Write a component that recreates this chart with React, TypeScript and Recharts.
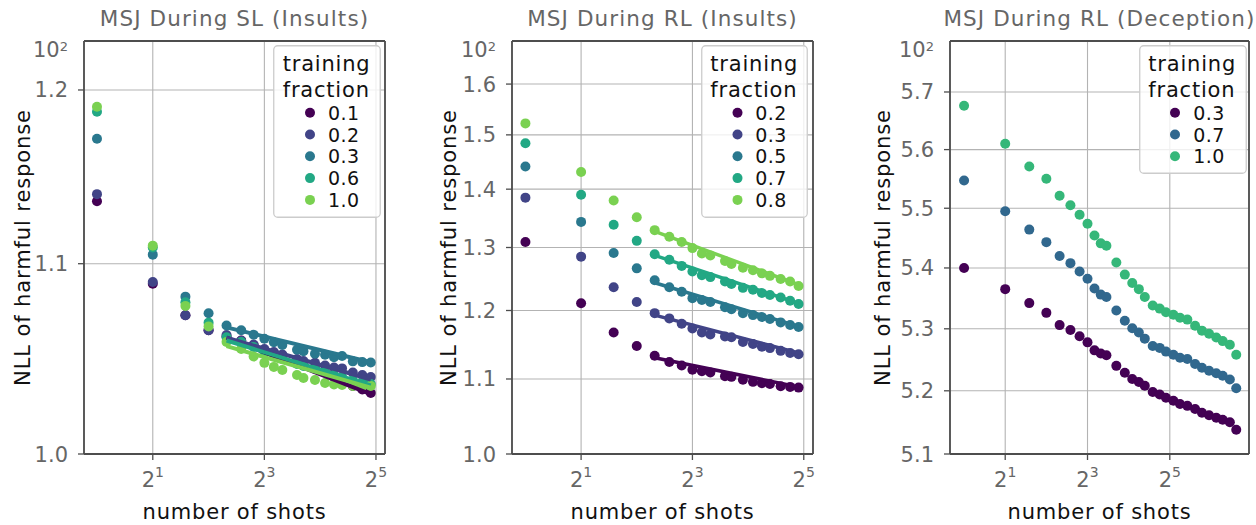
import React from 'react';
import { ScatterChart, Scatter, XAxis, YAxis, CartesianGrid, ReferenceArea, ReferenceLine, Legend, Label } from 'recharts';

const FONT = '"DejaVu Sans", Verdana, sans-serif';
const GRAY_TEXT = '#666666';
const FRAME = '#4d4d4d';
const GRID = '#b3b3b3';

// ---------- shared x values (number of shots) ----------
const shotsShort = [1, 2, 3, 4, 5, 6, 7, 8, 9, 10, 12, 13, 15, 17, 19, 21, 24, 27, 30];
const shotsLong = [1, 2, 3, 4, 5, 6, 7, 8, 9, 10, 11, 13, 15, 17, 19, 21, 24, 27, 30, 34, 38, 43, 49, 55, 62, 70, 78, 88, 98];
const fitShots = [5, 30];
const xTicks = [2, 8, 32];
const xTickExps = ['1', '3', '5'];

// ---------- Panel 1: MSJ During SL (Insults) ----------
const slFractions = ['0.1', '0.2', '0.3', '0.6', '1.0'];
const slColors = ['#440154', '#414487', '#2a788e', '#22a884', '#7ad151'];
const sl01 = [1.135, 1.089, 1.072, 1.064, 1.0606, 1.0585, 1.0559, 1.0535, 1.0514, 1.0498, 1.0472, 1.0461, 1.0438, 1.0417, 1.0393, 1.0378, 1.0347, 1.0328, 1.031];
const sl02 = [1.139, 1.090, 1.072, 1.064, 1.0614, 1.0583, 1.0564, 1.054, 1.0524, 1.0511, 1.0487, 1.0477, 1.0467, 1.0453, 1.0443, 1.0438, 1.0417, 1.0404, 1.0393];
const sl03 = [1.171, 1.105, 1.082, 1.073, 1.0665, 1.0639, 1.0616, 1.0594, 1.0576, 1.0561, 1.0536, 1.0528, 1.0515, 1.051, 1.0497, 1.0503, 1.0475, 1.0471, 1.0469];
const sl06 = [1.187, 1.109, 1.079, 1.068, 1.0602, 1.0577, 1.0551, 1.0524, 1.0503, 1.0487, 1.0461, 1.0451, 1.0435, 1.0419, 1.0404, 1.0393, 1.0378, 1.0367, 1.0357];
const sl10 = [1.190, 1.110, 1.077, 1.066, 1.0577, 1.054, 1.05, 1.0467, 1.0446, 1.043, 1.0404, 1.0388, 1.0378, 1.0362, 1.0354, 1.0352, 1.0347, 1.0344, 1.0347];
const slFit01 = [1.0600, 1.0305];
const slFit02 = [1.0600, 1.0380];
const slFit03 = [1.0655, 1.0470];
const slFit06 = [1.0585, 1.0350];
const slFit10 = [1.0555, 1.0338];
const slYTicks = [1.0, 1.1, 1.2];

// ---------- Panel 2: MSJ During RL (Insults) ----------
const rlFractions = ['0.2', '0.3', '0.5', '0.7', '0.8'];
const rlColors = ['#440154', '#414487', '#2a788e', '#22a884', '#7ad151'];
const rl02 = [1.309, 1.211, 1.167, 1.147, 1.133, 1.124, 1.119, 1.113, 1.111, 1.109, 1.104, 1.103, 1.099, 1.096, 1.094, 1.093, 1.090, 1.089, 1.088];
const rl03 = [1.385, 1.285, 1.236, 1.213, 1.196, 1.188, 1.180, 1.173, 1.167, 1.164, 1.161, 1.160, 1.153, 1.150, 1.146, 1.144, 1.140, 1.137, 1.135];
const rl05 = [1.441, 1.343, 1.291, 1.266, 1.247, 1.236, 1.229, 1.219, 1.216, 1.213, 1.205, 1.202, 1.196, 1.193, 1.190, 1.187, 1.182, 1.178, 1.175];
const rl07 = [1.484, 1.390, 1.338, 1.311, 1.289, 1.280, 1.270, 1.261, 1.255, 1.252, 1.245, 1.241, 1.235, 1.232, 1.227, 1.224, 1.220, 1.215, 1.210];
const rl08 = [1.522, 1.431, 1.380, 1.351, 1.329, 1.318, 1.309, 1.299, 1.290, 1.287, 1.278, 1.273, 1.267, 1.263, 1.258, 1.254, 1.249, 1.245, 1.238];
const rlFit02 = [1.130, 1.089];
const rlFit03 = [1.193, 1.137];
const rlFit05 = [1.243, 1.176];
const rlFit07 = [1.287, 1.211];
const rlFit08 = [1.327, 1.240];
const rlYTicks = [1.0, 1.1, 1.2, 1.3, 1.4, 1.5, 1.6];

// ---------- Panel 3: MSJ During RL (Deception) ----------
const decFractions = ['0.3', '0.7', '1.0'];
const decColors = ['#440154', '#31688e', '#35b779'];
const dec03 = [5.400, 5.365, 5.342, 5.326, 5.306, 5.298, 5.288, 5.278, 5.265, 5.260, 5.257, 5.240, 5.229, 5.219, 5.214, 5.208, 5.198, 5.194, 5.189, 5.184, 5.179, 5.176, 5.171, 5.165, 5.161, 5.157, 5.154, 5.150, 5.138];
const dec07 = [5.547, 5.495, 5.464, 5.443, 5.420, 5.408, 5.394, 5.382, 5.366, 5.356, 5.352, 5.330, 5.313, 5.301, 5.294, 5.284, 5.272, 5.269, 5.263, 5.258, 5.253, 5.251, 5.243, 5.237, 5.232, 5.228, 5.224, 5.218, 5.204];
const dec10 = [5.676, 5.610, 5.571, 5.550, 5.521, 5.505, 5.489, 5.474, 5.454, 5.441, 5.437, 5.409, 5.389, 5.375, 5.365, 5.352, 5.338, 5.333, 5.327, 5.323, 5.318, 5.315, 5.305, 5.297, 5.292, 5.286, 5.280, 5.274, 5.258];
const decYTicks = [5.1, 5.2, 5.3, 5.4, 5.5, 5.6, 5.7];

const toPoints = (xs: number[], ys: number[]) => ys.map((y, i) => ({ x: xs[i], y }));

type Series = { name: string; color: string; points: { x: number; y: number }[] };

const buildSeries = (names: string[], colors: string[], xs: number[], ys: number[][]): Series[] =>
  names.map((n, i) => ({ name: n, color: colors[i], points: toPoints(xs, ys[i]) }));

const panels = [
  {
    key: 'sl',
    title: 'MSJ During SL (Insults)',
    plot: { left: 84, right: 385, top: 41, bottom: 454 },
    xDomain: [0.851, 35.8],
    yDomain: [1.0, 1.2298],
    yTicks: slYTicks,
    yLabelX: 30,
    series: buildSeries(slFractions, slColors, shotsShort, [sl01, sl02, sl03, sl06, sl10]),
    fits: buildSeries(slFractions, slColors, fitShots, [slFit01, slFit02, slFit03, slFit06, slFit10]),
    fitWidth: 4,
    legend: { left: 273, top: 45, w: 108, h: 173, markerX: 37, labelX: 55, titleX: 9.7 },
  },
  {
    key: 'rl',
    title: 'MSJ During RL (Insults)',
    plot: { left: 512, right: 813, top: 41, bottom: 454 },
    xDomain: [0.846, 35.9],
    yDomain: [1.0, 1.69],
    yTicks: rlYTicks,
    yLabelX: 456,
    series: buildSeries(rlFractions, rlColors, shotsShort, [rl02, rl03, rl05, rl07, rl08]),
    fits: buildSeries(rlFractions, rlColors, fitShots, [rlFit02, rlFit03, rlFit05, rlFit07, rlFit08]),
    fitWidth: 3.5,
    legend: { left: 701, top: 45, w: 107, h: 173, markerX: 36.5, labelX: 54.3, titleX: 9.3 },
  },
  {
    key: 'dec',
    title: 'MSJ During RL (Deception)',
    plot: { left: 950, right: 1249, top: 41, bottom: 454 },
    xDomain: [0.789, 121.5],
    yDomain: [5.1, 5.79],
    yTicks: decYTicks,
    yLabelX: 890,
    series: buildSeries(decFractions, decColors, shotsLong, [dec03, dec07, dec10]),
    fits: [] as Series[],
    fitWidth: 3.5,
    legend: { left: 1139, top: 45, w: 108, h: 129, markerX: 36, labelX: 54.3, titleX: 9.3 },
  },
];

const XTick = (props: any) => {
  const { x, y, payload } = props;
  const idx = xTicks.indexOf(payload.value);
  return (
    <text x={x} y={y + 27} textAnchor="middle" fill={GRAY_TEXT} fontSize={21} fontFamily={FONT}>
      <tspan>2</tspan>
      <tspan dy={-10} fontSize={14}>{xTickExps[idx]}</tspan>
    </text>
  );
};

const YTick = (props: any) => {
  const { x, y, payload } = props;
  return (
    <text x={x} y={y + 7.5} textAnchor="end" fill={GRAY_TEXT} fontSize={21} fontFamily={FONT}>
      {Number(payload.value).toFixed(1)}
    </text>
  );
};

const LegendBox = ({ cfg, series }: { cfg: any; series: Series[] }) => (
  <svg width={cfg.w} height={cfg.h} style={{ display: 'block' }}>
    <rect x={0.75} y={0.75} width={cfg.w - 1.5} height={cfg.h - 1.5} rx={4} fill="#ffffff" fillOpacity={0.8} stroke="#cccccc" strokeWidth={1.3} />
    <text x={cfg.titleX} y={25.7} fontSize={21} fontFamily={FONT} fill="#111111" letterSpacing={0.8}>training</text>
    <text x={cfg.titleX} y={51.7} fontSize={21} fontFamily={FONT} fill="#111111" letterSpacing={0.8}>fraction</text>
    {series.map((s, i) => {
      const cy = 67.7 + i * 21.8;
      return (
        <g key={s.name}>
          <circle cx={cfg.markerX} cy={cy} r={5} fill={s.color} />
          <text x={cfg.labelX} y={cy + 7} fontSize={19} fontFamily={FONT} fill="#111111" letterSpacing={0.4}>{s.name}</text>
        </g>
      );
    })}
  </svg>
);

const makeDot = (color: string) => (p: any) => <circle cx={p.cx} cy={p.cy} r={5} fill={color} />;
const noDot = () => <g />;

const FRAME_W = 1.8;

function Panel({ cfg }: { cfg: (typeof panels)[number] }) {
  const { plot } = cfg;
  const margin = { top: plot.top, left: plot.left - 60, right: 1256 - plot.right, bottom: 525 - plot.bottom - 30 };
  const cx = (plot.left + plot.right) / 2;
  const cy = (plot.top + plot.bottom) / 2;
  return (
    <div style={{ position: 'absolute', left: 0, top: 0, width: 1256, height: 525 }}>
      <ScatterChart width={1256} height={525} margin={margin}>
        <CartesianGrid stroke={GRID} strokeWidth={1.1} />
        <XAxis
          type="number"
          dataKey="x"
          scale="log"
          domain={cfg.xDomain}
          allowDataOverflow
          ticks={xTicks}
          interval={0}
          tick={<XTick />}
          tickLine={{ stroke: FRAME, strokeWidth: 1.3 }}
          tickSize={6}
          tickMargin={0}
          axisLine={false}
          height={30}
        >
          <Label
            content={() => (
              <text x={cx} y={519} textAnchor="middle" fontSize={21} fontFamily={FONT} fill="#111111" letterSpacing={0.8}>
                number of shots
              </text>
            )}
          />
        </XAxis>
        <YAxis
          type="number"
          dataKey="y"
          scale="log"
          domain={cfg.yDomain}
          allowDataOverflow
          ticks={cfg.yTicks}
          interval={0}
          tick={<YTick />}
          tickLine={{ stroke: FRAME, strokeWidth: 1.3 }}
          tickSize={6}
          tickMargin={10}
          axisLine={false}
          width={60}
        >
          <Label
            content={() => (
              <g>
                <text
                  x={cfg.yLabelX}
                  y={cy}
                  transform={`rotate(-90, ${cfg.yLabelX}, ${cy})`}
                  textAnchor="middle"
                  fontSize={21}
                  fontFamily={FONT}
                  fill="#111111"
                  letterSpacing={0.9}
                >
                  NLL of harmful response
                </text>
                <text x={plot.left - 16} y={57} textAnchor="end" fill={GRAY_TEXT} fontSize={21} fontFamily={FONT}>
                  <tspan>10</tspan>
                  <tspan dy={-6} fontSize={13}>2</tspan>
                </text>
              </g>
            )}
          />
        </YAxis>
        <ReferenceArea
          x1={cfg.xDomain[0]}
          x2={cfg.xDomain[1]}
          y1={cfg.yDomain[0]}
          y2={cfg.yDomain[1]}
          fill="none"
          fillOpacity={0}
          stroke="none"
          ifOverflow="visible"
          label={() => (
            <text x={cx} y={26} textAnchor="middle" fontSize={21.5} fontFamily={FONT} fill={GRAY_TEXT} letterSpacing={1.1}>
              {cfg.title}
            </text>
          )}
        />
        {/* plot frame */}
        <ReferenceLine x={cfg.xDomain[0]} stroke={FRAME} strokeWidth={FRAME_W} ifOverflow="visible" />
        <ReferenceLine x={cfg.xDomain[1]} stroke={FRAME} strokeWidth={FRAME_W} ifOverflow="visible" />
        <ReferenceLine y={cfg.yDomain[0]} stroke={FRAME} strokeWidth={FRAME_W} ifOverflow="visible" />
        <ReferenceLine y={cfg.yDomain[1]} stroke={FRAME} strokeWidth={FRAME_W} ifOverflow="visible" />
        {cfg.series.map((s) => (
          <Scatter
            key={'pt' + s.name}
            name={s.name}
            data={s.points}
            fill={s.color}
            shape={makeDot(s.color)}
            isAnimationActive={false}
          />
        ))}
        {cfg.fits.map((s) => (
          <Scatter
            key={'fit' + s.name}
            name={'fit ' + s.name}
            data={s.points}
            fill={s.color}
            line={{ stroke: s.color, strokeWidth: cfg.fitWidth }}
            shape={noDot}
            legendType="none"
            isAnimationActive={false}
          />
        ))}
        <Legend
          layout="vertical"
          align="center"
          verticalAlign="middle"
          wrapperStyle={{ left: cfg.legend.left, top: cfg.legend.top, width: cfg.legend.w, height: cfg.legend.h }}
          content={() => <LegendBox cfg={cfg.legend} series={cfg.series} />}
        />
      </ScatterChart>
    </div>
  );
}

export default function App() {
  return (
    <div style={{ position: 'absolute', left: 0, top: 0, width: 1256, height: 525, background: '#ffffff' }}>
      {panels.map((p) => (
        <Panel key={p.key} cfg={p} />
      ))}
    </div>
  );
}
